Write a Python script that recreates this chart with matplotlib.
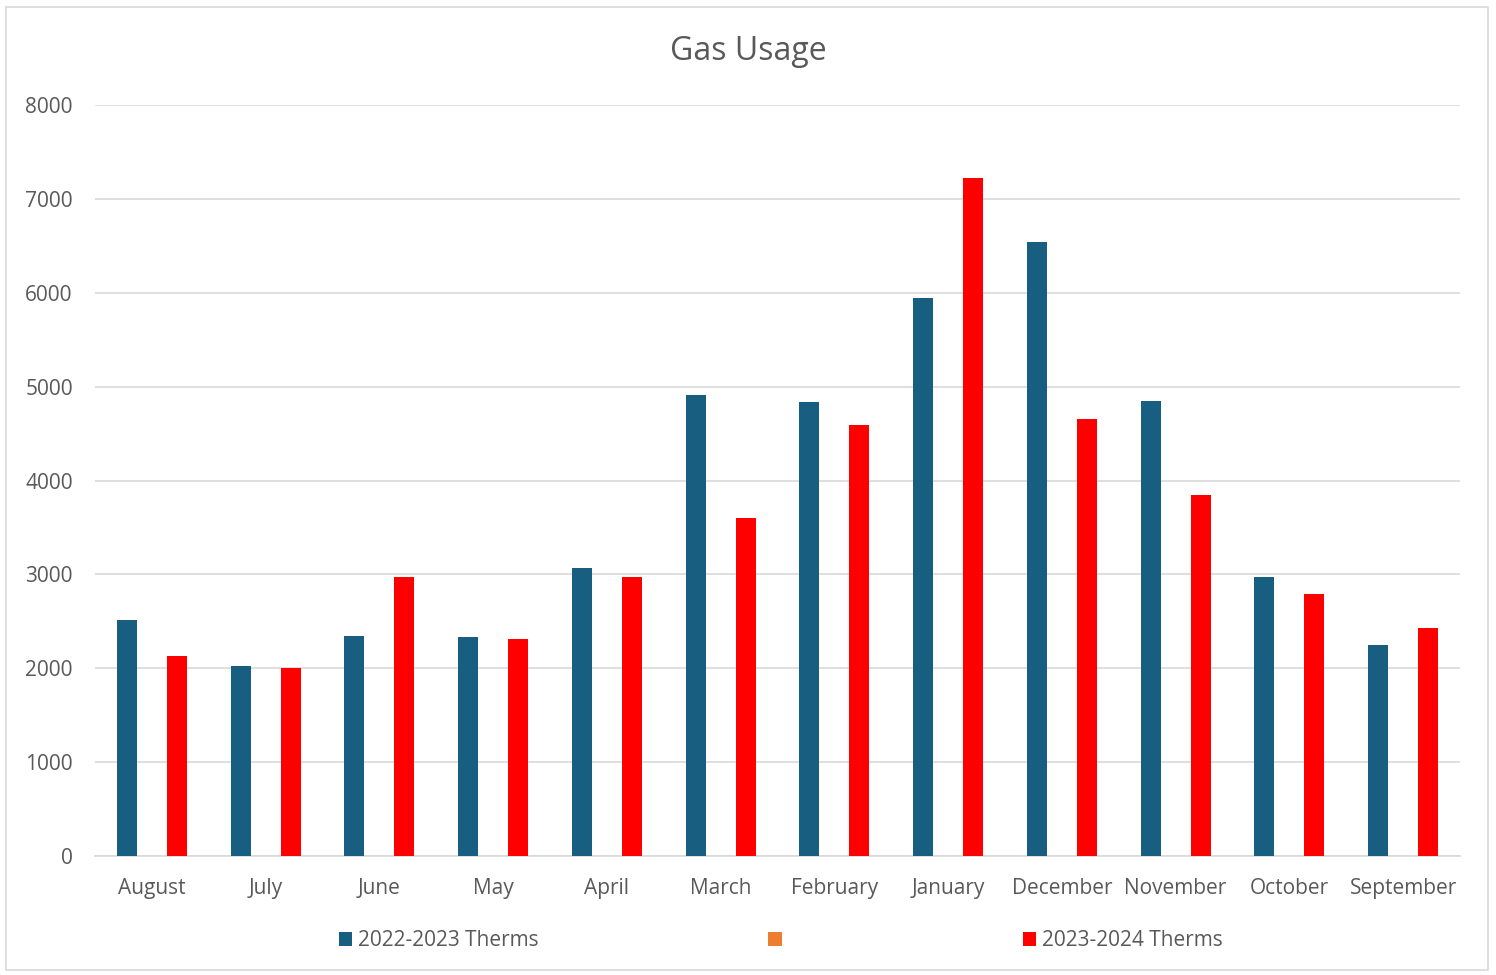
import matplotlib.pyplot as plt
import numpy as np
from matplotlib.patches import Rectangle

months = ['August', 'July', 'June', 'May', 'April', 'March', 'February',
          'January', 'December', 'November', 'October', 'September']
therms_2022 = [2510, 2025, 2345, 2335, 3070, 4910, 4840, 5945, 6540, 4845, 2970, 2250]
therms_2023 = [2130, 2000, 2970, 2315, 2970, 3600, 4595, 7225, 4655, 3845, 2790, 2430]
yticks = [0, 1000, 2000, 3000, 4000, 5000, 6000, 7000, 8000]

blue = '#175E80'
orange = '#ED7D31'
red = '#FF0000'
gray = '#595959'

plt.rcParams['font.family'] = ['Open Sans', 'DejaVu Sans']

fig = plt.figure(figsize=(14.96, 9.75), dpi=100)
ax = fig.add_axes([95 / 1496, 1 - 856 / 975, (1460 - 95) / 1496, (856 - 105) / 975])

x = np.arange(len(months))
w = 0.176
off = 0.22
ax.bar(x - off, therms_2022, w, color=blue, label='2022-2023 Therms', zorder=3)
ax.bar(x, [0] * len(months), w, color=orange, label=' ', zorder=3)
ax.bar(x + off, therms_2023, w, color=red, label='2023-2024 Therms', zorder=3)

ax.set_xlim(-0.5, len(months) - 0.5)
ax.set_ylim(0, 8000)
ax.set_yticks(yticks)
ax.set_xticks(x)
ax.set_xticklabels(months)
ax.grid(axis='y', color='#D9D9D9', linewidth=1.2, zorder=0)
for s in ['top', 'right', 'left']:
    ax.spines[s].set_visible(False)
ax.spines['bottom'].set_color('#D9D9D9')
ax.spines['bottom'].set_linewidth(1.2)
ax.tick_params(axis='both', length=0, labelsize=15, colors=gray)
ax.tick_params(axis='x', pad=16)
ax.tick_params(axis='y', pad=16)

fig.text(0.5, 1 - 52 / 975, 'Gas Usage', ha='center', va='center', fontsize=23, color=gray)

handles, labels = ax.get_legend_handles_labels()
leg = fig.legend(handles, labels, loc='center', bbox_to_anchor=(0.522, 1 - 941 / 975), ncol=3,
                 frameon=False, fontsize=15, handlelength=0.65, handleheight=0.65,
                 handletextpad=0.3, columnspacing=11.0)
for t in leg.get_texts():
    t.set_color(gray)

fig.patches.append(Rectangle((6 / 1496, 5 / 975), 1482 / 1496, 963 / 975, transform=fig.transFigure,
                             fill=False, edgecolor='#D9D9D9', linewidth=1.2))

fig.savefig('out.png', dpi=100)
